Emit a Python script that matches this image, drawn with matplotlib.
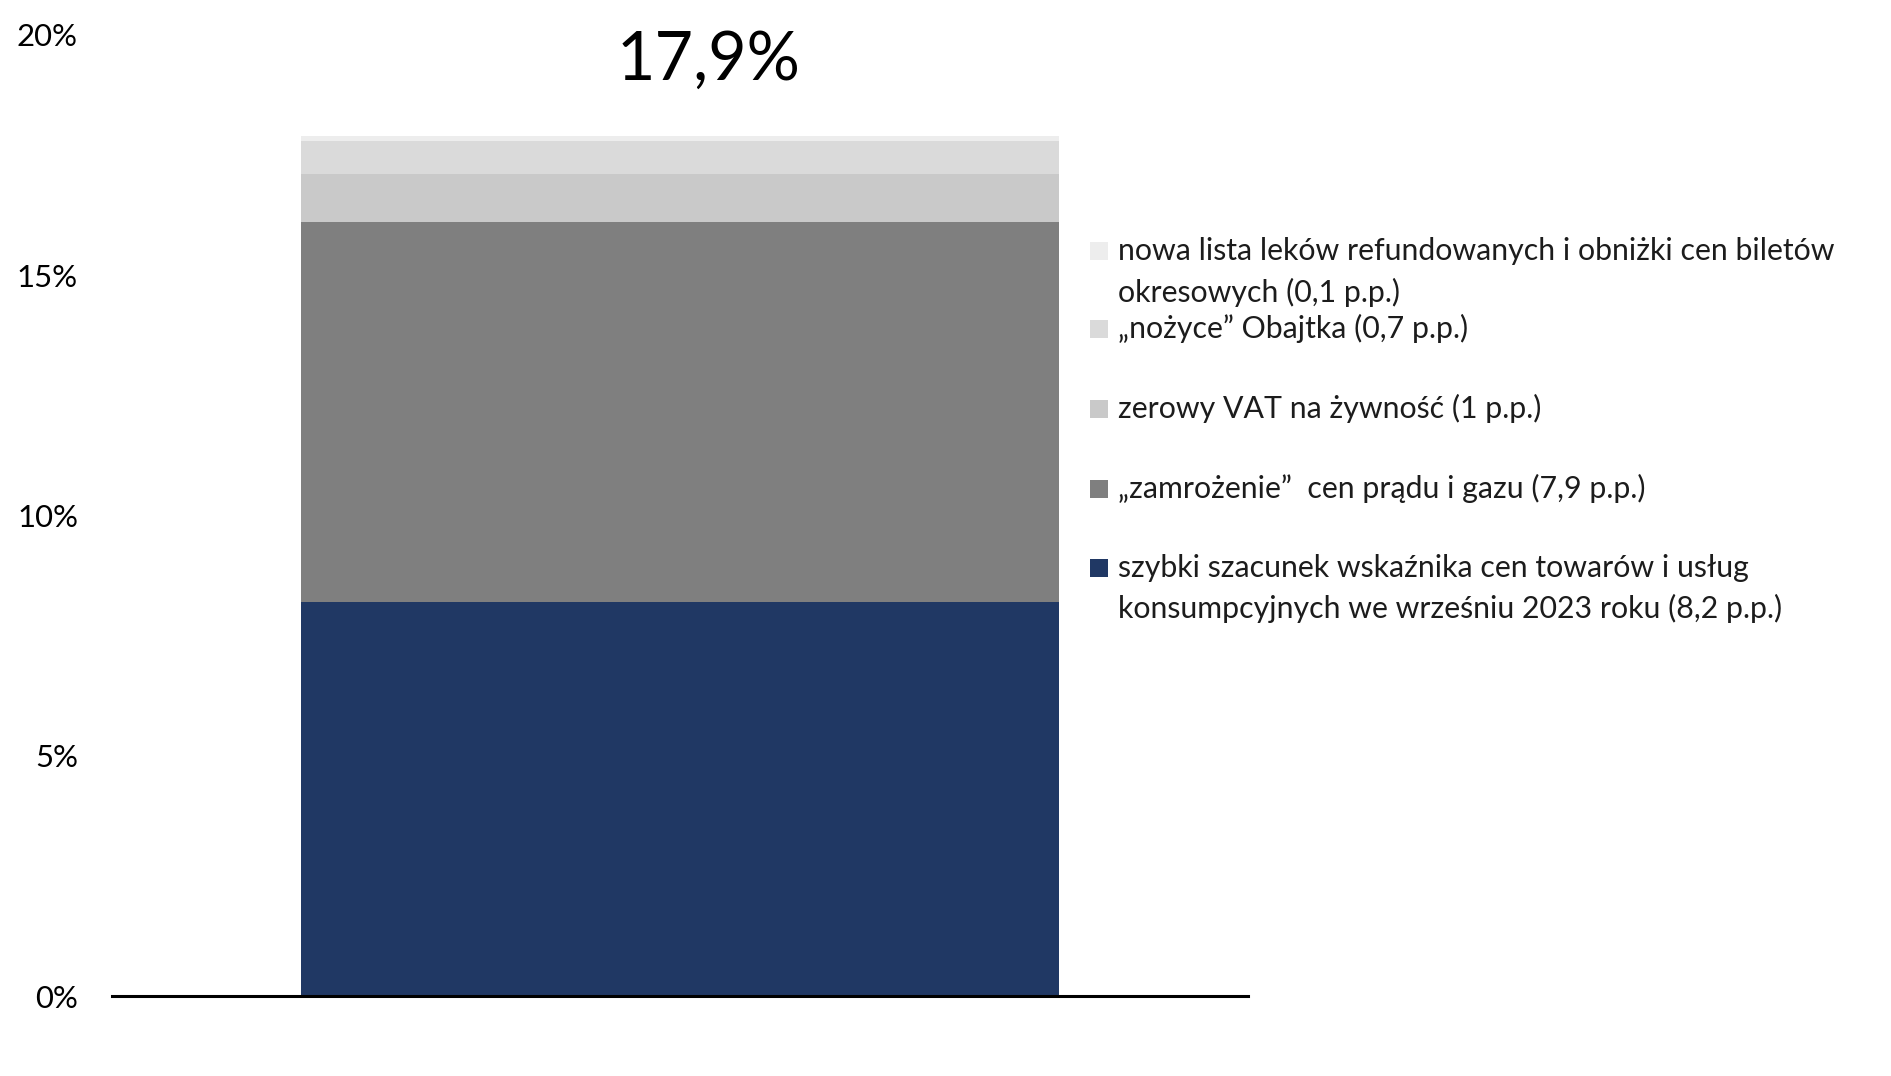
import matplotlib
matplotlib.use('Agg')
import matplotlib.pyplot as plt
from matplotlib.patches import Rectangle

# ---------------- data ----------------
categories = ['IX 2023']
components = [
    'szybki szacunek wskaźnika cen towarów i usług konsumpcyjnych we wrześniu 2023 roku',
    '„zamrożenie”  cen prądu i gazu',
    'zerowy VAT na żywność',
    '„nożyce” Obajtka',
    'nowa lista leków refundowanych i obniżki cen biletów okresowych',
]
values = [8.2, 7.9, 1.0, 0.7, 0.1]
total_label = '17,9%'
colors = ['#203864', '#7F7F7F', '#C9C9C9', '#DADADA', '#EDEDED']
yticks = [0, 5, 10, 15, 20]
ytick_labels = ['0%', '5%', '10%', '15%', '20%']
# legend text lines (top entry first), as wrapped in the original
legend_lines = [
    ['nowa lista leków refundowanych i obniżki cen biletów', 'okresowych (0,1 p.p.)'],
    ['„nożyce” Obajtka (0,7 p.p.)'],
    ['zerowy VAT na żywność (1 p.p.)'],
    ['„zamrożenie”  cen prądu i gazu (7,9 p.p.)'],
    ['szybki szacunek wskaźnika cen towarów i usług', 'konsumpcyjnych we wrześniu 2023 roku (8,2 p.p.)'],
]
legend_colors = colors[::-1]

# ---------------- figure ----------------
W, H, DPI = 1891, 1076, 100
fig = plt.figure(figsize=(W / DPI, H / DPI), dpi=DPI)
fig.patch.set_facecolor('white')

def fx(px):
    return px / W

def fy(py):
    return 1 - py / H

ax = fig.add_axes([fx(112), fy(996), fx(1248) - fx(112), fy(35) - fy(996)])

bottom = 0.0
for v, c, name in zip(values, colors, components):
    ax.bar(categories, [v], bottom=bottom, width=1.0, color=c, edgecolor='none', label=name, zorder=2)
    bottom += v
total = bottom

ax.set_xlim(-0.75, 0.75)
ax.set_ylim(0, 20)
ax.set_yticks(yticks)
ax.set_yticklabels(ytick_labels)
ax.set_xticks([])
for s in ['top', 'right', 'left']:
    ax.spines[s].set_visible(False)
ax.spines['bottom'].set_linewidth(2.2)
ax.spines['bottom'].set_color('black')
ax.spines['bottom'].set_zorder(3)
ax.tick_params(axis='y', length=0, pad=24.5, labelsize=27, labelcolor='black')
for t in ax.get_yticklabels():
    t.set_fontfamily(['Lato', 'DejaVu Sans'])

big = ax.annotate(total_label, xy=(0, total), xytext=(29, 56), textcoords='offset pixels',
                  ha='center', va='baseline', fontsize=55, color='black',
                  fontfamily=['Lato', 'DejaVu Sans'])

# legend drawn manually
text_x = 1118
marker_x = 1090
msize = 18
baselines = [[260, 302], [338], [418], [498], [577, 618]]
legend_texts = []
for lines, bls, col in zip(legend_lines, baselines, legend_colors):
    fig.patches.append(Rectangle((fx(marker_x), fy(bls[0])), msize / W, msize / H,
                                 transform=fig.transFigure, facecolor=col, edgecolor='none'))
    for ln, b in zip(lines, bls):
        t = fig.text(fx(text_x), fy(b), ln, ha='left', va='baseline', fontsize=26,
                     color='#1c1c1c', fontfamily=['Lato', 'DejaVu Sans'], fontweight='normal')
        legend_texts.append(t)

# fit font sizes to measured widths
fig.canvas.draw()
r = fig.canvas.get_renderer()

def fit(t, target):
    w = t.get_window_extent(r).width
    return t.get_fontsize() * target / w

leg_fs = fit(legend_texts[0], 716)
for t in legend_texts:
    t.set_fontsize(leg_fs)
tl = [t for t in ax.get_yticklabels() if t.get_text() == '20%'][0]
tick_fs = fit(tl, 61)
ax.tick_params(axis='y', labelsize=tick_fs)
big.set_fontsize(fit(big, 184))

fig.savefig('out.png', dpi=DPI, facecolor='white')
